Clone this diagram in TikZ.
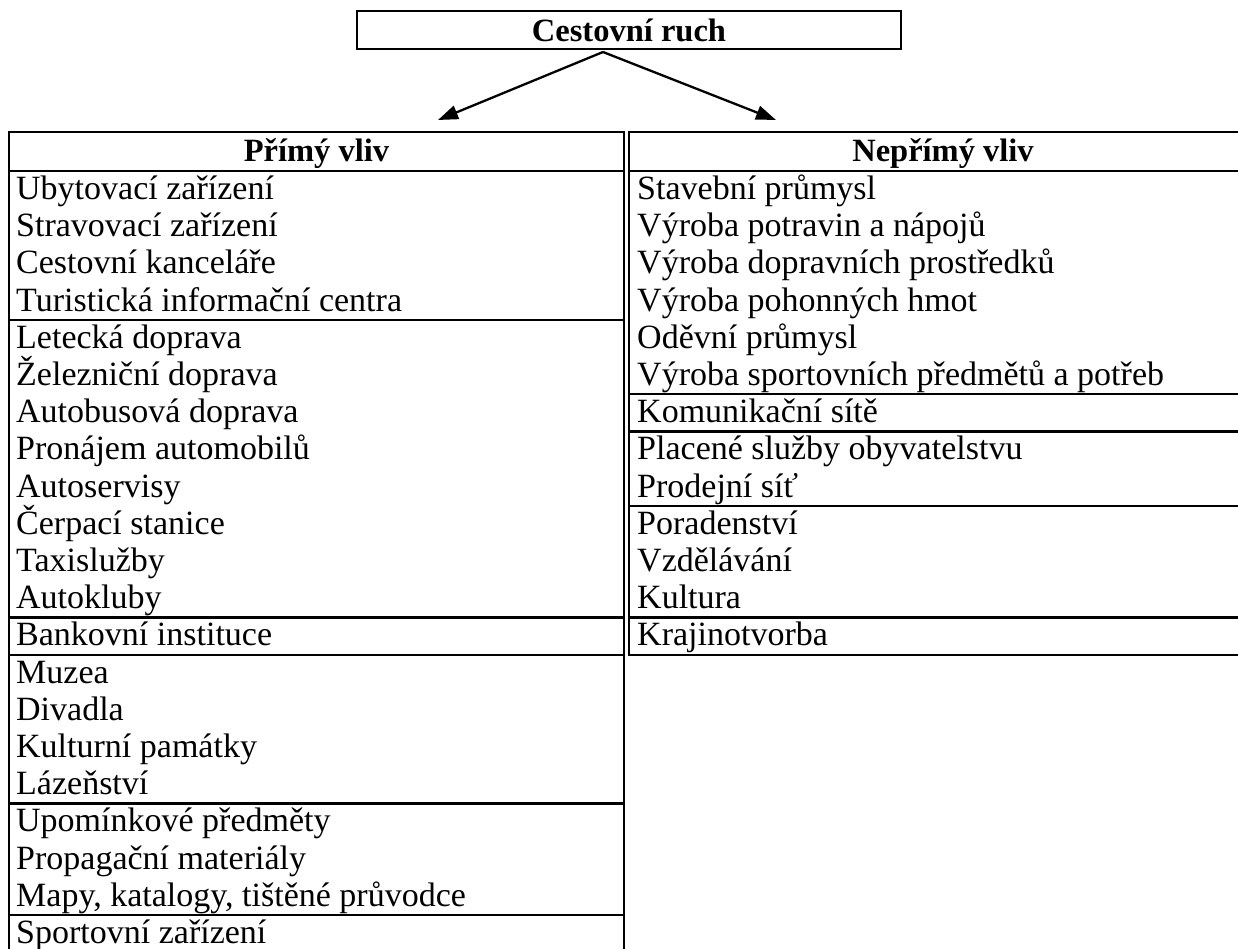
\documentclass[tikz,border=0pt]{standalone}
\usepackage{fontspec}
\setmainfont{Liberation Serif}
\usetikzlibrary{arrows.meta}
\tikzset{
  rule/.style={line width=2.2pt},
  cell/.style={anchor=base west, inner sep=0pt, font=\fontsize{34}{38}\selectfont},
  headtxt/.style={anchor=base, inner sep=0pt, font=\fontsize{32.5}{38}\selectfont\bfseries},
  arr/.style={line width=2.3pt, -{Triangle[length=20pt,width=14pt]}}
}
\begin{document}
\begin{tikzpicture}[x=1pt,y=-1pt]
\useasboundingbox (0,0) rectangle (1238,949);
\clip (0,0) rectangle (1238,949);
% top box
\node[draw, rule, minimum width=544pt, minimum height=38pt, inner sep=0pt,
      font=\fontsize{32.5}{38}\selectfont\bfseries] (top) at (629,30) {Cestovní ruch};
\coordinate (apex) at (603,52);
\coordinate (ltip) at (438,120);
\coordinate (rtip) at (776,120);
\draw[arr] (apex) -- (ltip);
\draw[arr] (apex) -- (rtip);
% left table
\draw[rule] (9,132) rectangle (624,952.2);
\draw[rule] (9,171) -- (624,171);
\draw[rule] (9,319.8) -- (624,319.8);
\draw[rule] (9,617.4) -- (624,617.4);
\draw[rule] (9,654.6) -- (624,654.6);
\draw[rule] (9,803.4) -- (624,803.4);
\draw[rule] (9,915) -- (624,915);
\node[headtxt] (lh) at (316.5,162) {Přímý vliv};
\node[cell] (l1) at (16,{199.5+37.2*0}) {Ubytovací zařízení};
\node[cell] (l2) at (16,{199.5+37.2*1}) {Stravovací zařízení};
\node[cell] (l3) at (16,{199.5+37.2*2}) {Cestovní kanceláře};
\node[cell] (l4) at (16,{199.5+37.2*3}) {Turistická informační centra};
\node[cell] (l5) at (16,{199.5+37.2*4}) {Letecká doprava};
\node[cell] (l6) at (16,{199.5+37.2*5}) {Železniční doprava};
\node[cell] (l7) at (16,{199.5+37.2*6}) {Autobusová doprava};
\node[cell] (l8) at (16,{199.5+37.2*7}) {Pronájem automobilů};
\node[cell] (l9) at (16,{199.5+37.2*8}) {Autoservisy};
\node[cell] (l10) at (16,{199.5+37.2*9}) {Čerpací stanice};
\node[cell] (l11) at (16,{199.5+37.2*10}) {Taxislužby};
\node[cell] (l12) at (16,{199.5+37.2*11}) {Autokluby};
\node[cell] (l13) at (16,{199.5+37.2*12}) {Bankovní instituce};
\node[cell] (l14) at (16,{199.5+37.2*13}) {Muzea};
\node[cell] (l15) at (16,{199.5+37.2*14}) {Divadla};
\node[cell] (l16) at (16,{199.5+37.2*15}) {Kulturní památky};
\node[cell] (l17) at (16,{199.5+37.2*16}) {Lázeňství};
\node[cell] (l18) at (16,{199.5+37.2*17}) {Upomínkové předměty};
\node[cell] (l19) at (16,{199.5+37.2*18}) {Propagační materiály};
\node[cell] (l20) at (16,{199.5+37.2*19}) {Mapy, katalogy, tištěné průvodce};
\node[cell] (l21) at (16,{199.5+37.2*20}) {Sportovní zařízení};
% right table
\draw[rule] (629,132) rectangle (1257,654.6);
\draw[rule] (629,171) -- (1257,171);
\draw[rule] (629,394.2) -- (1257,394.2);
\draw[rule] (629,431.4) -- (1257,431.4);
\draw[rule] (629,505.8) -- (1257,505.8);
\draw[rule] (629,617.4) -- (1257,617.4);
\node[headtxt] (rh) at (943,162) {Nepřímý vliv};
\node[cell] (r1) at (637,{199.5+37.2*0}) {Stavební průmysl};
\node[cell] (r2) at (637,{199.5+37.2*1}) {Výroba potravin a nápojů};
\node[cell] (r3) at (637,{199.5+37.2*2}) {Výroba dopravních prostředků};
\node[cell] (r4) at (637,{199.5+37.2*3}) {Výroba pohonných hmot};
\node[cell] (r5) at (637,{199.5+37.2*4}) {Oděvní průmysl};
\node[cell] (r6) at (637,{199.5+37.2*5}) {Výroba sportovních předmětů a potřeb};
\node[cell] (r7) at (637,{199.5+37.2*6}) {Komunikační sítě};
\node[cell] (r8) at (637,{199.5+37.2*7}) {Placené služby obyvatelstvu};
\node[cell] (r9) at (637,{199.5+37.2*8}) {Prodejní síť};
\node[cell] (r10) at (637,{199.5+37.2*9}) {Poradenství};
\node[cell] (r11) at (637,{199.5+37.2*10}) {Vzdělávání};
\node[cell] (r12) at (637,{199.5+37.2*11}) {Kultura};
\node[cell] (r13) at (637,{199.5+37.2*12}) {Krajinotvorba};
\end{tikzpicture}
\end{document}
